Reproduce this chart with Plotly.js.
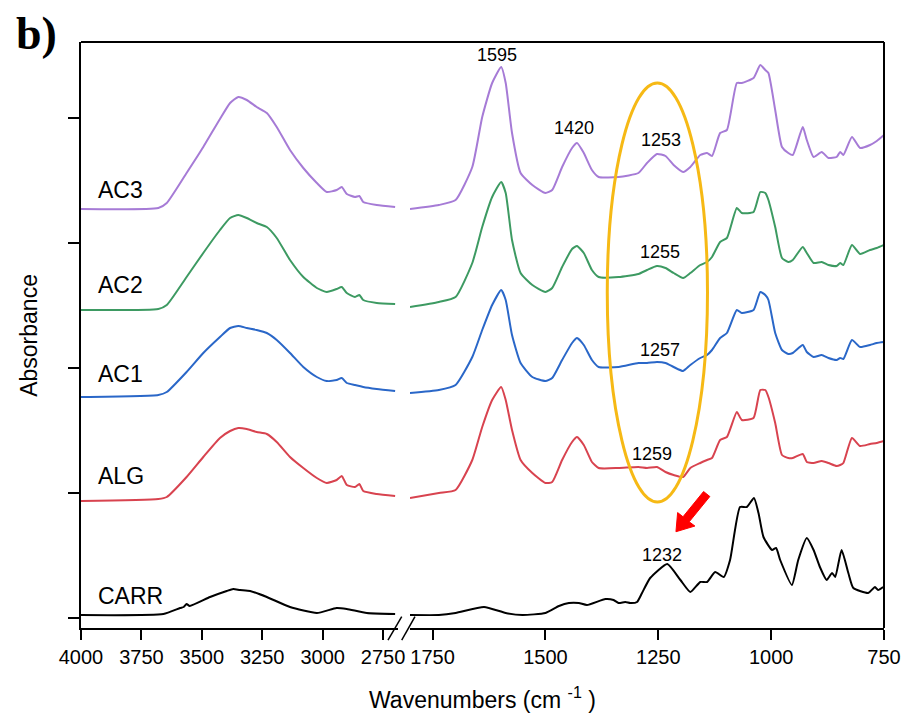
<!DOCTYPE html>
<html>
<head>
<meta charset="utf-8">
<script src="https://cdn.plot.ly/plotly-3.0.1.min.js"></script>
<style>html,body{margin:0;padding:0;background:#fff;}#chart{width:903px;height:713px;}</style>
</head>
<body>
<div id="chart"></div>
<script>
// ---------- DATA ----------
// Left panel (4000 - 2700 cm-1)
const wnLeft = [4000, 3680, 3645, 3563, 3494, 3425, 3383, 3349, 3314, 3273, 3231, 3190, 3135, 3080, 3024, 2983, 2942, 2921, 2900, 2866, 2848, 2832, 2776, 2700];
const ac3Left = [4.09, 4.10, 4.15, 4.45, 4.71, 4.99, 5.15, 5.21, 5.18, 5.11, 5.05, 4.91, 4.68, 4.50, 4.35, 4.26, 4.28, 4.31, 4.24, 4.21, 4.22, 4.16, 4.13, 4.11];
const ac2Left = [3.08, 3.09, 3.13, 3.41, 3.65, 3.88, 4.00, 4.03, 4.00, 3.95, 3.91, 3.80, 3.58, 3.41, 3.30, 3.26, 3.29, 3.31, 3.25, 3.21, 3.23, 3.18, 3.15, 3.14];
const ac1Left = [2.21, 2.23, 2.26, 2.46, 2.65, 2.81, 2.90, 2.92, 2.90, 2.88, 2.85, 2.78, 2.65, 2.51, 2.41, 2.37, 2.38, 2.40, 2.35, 2.33, 2.32, 2.31, 2.29, 2.27];
const algLeft = [1.17, 1.19, 1.21, 1.41, 1.61, 1.80, 1.87, 1.90, 1.89, 1.86, 1.84, 1.76, 1.61, 1.50, 1.40, 1.35, 1.38, 1.42, 1.33, 1.31, 1.34, 1.27, 1.24, 1.22];
const wnCarrLeft = [4000, 3659, 3590, 3575, 3563, 3550, 3466, 3397, 3370, 3342, 3300, 3231, 3135, 3024, 2942, 2900, 2817, 2700];
const carrLeft = [0.03, 0.04, 0.10, 0.11, 0.14, 0.12, 0.21, 0.27, 0.29, 0.28, 0.27, 0.21, 0.11, 0.05, 0.10, 0.09, 0.05, 0.04];

// Right panel (1800 - 750 cm-1)
const wnRight = [1800, 1736, 1699, 1662, 1640, 1618, 1598, 1588, 1574, 1555, 1529, 1500, 1485, 1463, 1441, 1430, 1415, 1397, 1382, 1338, 1294, 1275, 1253, 1234, 1216, 1195, 1179, 1157, 1142, 1131, 1113, 1098, 1076, 1065, 1039, 1024, 1013, 1006, 991, 976, 962, 952, 930, 921, 906, 888, 873, 855, 847, 840, 821, 803, 781, 766, 750];
const ac3Right = [4.09, 4.13, 4.18, 4.51, 5.01, 5.35, 5.51, 5.35, 4.85, 4.45, 4.33, 4.25, 4.28, 4.51, 4.70, 4.75, 4.65, 4.48, 4.41, 4.41, 4.45, 4.55, 4.64, 4.62, 4.53, 4.46, 4.51, 4.63, 4.65, 4.62, 4.85, 4.88, 5.35, 5.35, 5.40, 5.53, 5.48, 5.45, 5.08, 4.71, 4.65, 4.63, 4.91, 4.78, 4.61, 4.66, 4.60, 4.61, 4.66, 4.63, 4.81, 4.70, 4.73, 4.77, 4.83];
const ac2Right = [3.11, 3.16, 3.21, 3.55, 3.91, 4.21, 4.36, 4.25, 3.78, 3.45, 3.33, 3.26, 3.30, 3.51, 3.69, 3.72, 3.65, 3.48, 3.41, 3.41, 3.44, 3.48, 3.52, 3.50, 3.45, 3.40, 3.45, 3.53, 3.56, 3.61, 3.76, 3.80, 4.10, 4.05, 4.06, 4.26, 4.25, 4.18, 3.91, 3.60, 3.56, 3.58, 3.71, 3.65, 3.55, 3.56, 3.53, 3.52, 3.55, 3.53, 3.73, 3.64, 3.68, 3.70, 3.73];
const ac1Right = [2.25, 2.28, 2.33, 2.61, 2.88, 3.13, 3.28, 3.18, 2.83, 2.55, 2.41, 2.37, 2.40, 2.58, 2.75, 2.80, 2.73, 2.58, 2.51, 2.51, 2.55, 2.55, 2.56, 2.55, 2.51, 2.47, 2.53, 2.60, 2.63, 2.68, 2.80, 2.85, 3.08, 3.05, 3.08, 3.26, 3.23, 3.18, 2.85, 2.68, 2.64, 2.65, 2.73, 2.66, 2.61, 2.63, 2.60, 2.58, 2.60, 2.59, 2.78, 2.71, 2.73, 2.75, 2.76];
const algRight = [1.20, 1.25, 1.28, 1.58, 1.91, 2.18, 2.31, 2.18, 1.88, 1.58, 1.45, 1.35, 1.36, 1.58, 1.76, 1.81, 1.73, 1.56, 1.50, 1.50, 1.51, 1.50, 1.51, 1.46, 1.43, 1.41, 1.50, 1.55, 1.58, 1.60, 1.78, 1.81, 2.06, 1.98, 2.00, 2.28, 2.28, 2.21, 1.95, 1.63, 1.60, 1.60, 1.64, 1.56, 1.55, 1.57, 1.55, 1.52, 1.53, 1.55, 1.80, 1.72, 1.74, 1.75, 1.77];
const wnCarrRight = [1800, 1736, 1699, 1636, 1588, 1551, 1500, 1470, 1448, 1426, 1408, 1367, 1349, 1338, 1323, 1312, 1297, 1286, 1268, 1230, 1201, 1179, 1157, 1142, 1124, 1105, 1091, 1069, 1054, 1038, 1028, 1017, 998, 989, 980, 954, 940, 921, 906, 892, 877, 865, 858, 844, 829, 818, 785, 770, 763, 752];
const carrRight = [0.03, 0.03, 0.05, 0.11, 0.05, 0.03, 0.05, 0.12, 0.15, 0.15, 0.13, 0.19, 0.18, 0.15, 0.16, 0.15, 0.16, 0.25, 0.40, 0.54, 0.38, 0.26, 0.36, 0.36, 0.46, 0.41, 0.58, 1.11, 1.11, 1.20, 1.05, 0.81, 0.68, 0.70, 0.58, 0.33, 0.58, 0.80, 0.68, 0.51, 0.38, 0.45, 0.41, 0.68, 0.45, 0.30, 0.25, 0.31, 0.28, 0.31];

const seriesNames = ["AC3", "AC2", "AC1", "ALG", "CARR"];
const seriesLabelY = [4.28, 3.33, 2.44, 1.42, 0.22];
const peakLabels = ["1595", "1420", "1253", "1255", "1257", "1259", "1232"];
const peakLabelX = [1607, 1436, 1243, 1246, 1246, 1263, 1241];
const peakLabelY = [5.63, 4.90, 4.78, 3.66, 2.68, 1.64, 0.63];
const leftTicks = [4000, 3750, 3500, 3250, 3000, 2750];
const rightTicks = [1750, 1500, 1250, 1000, 750];

// ---------- STYLE ----------
const colors = {AC3: "#a67bd6", AC2: "#3d9a62", AC1: "#2a67c8", ALG: "#d8434f", CARR: "#000000"};
const FONT = "Liberation Sans, Arial, Helvetica, sans-serif";

const leftData = {AC3: [wnLeft, ac3Left], AC2: [wnLeft, ac2Left], AC1: [wnLeft, ac1Left], ALG: [wnLeft, algLeft], CARR: [wnCarrLeft, carrLeft]};
const rightData = {AC3: [wnRight, ac3Right], AC2: [wnRight, ac2Right], AC1: [wnRight, ac1Right], ALG: [wnRight, algRight], CARR: [wnCarrRight, carrRight]};

const traces = [];
seriesNames.forEach(n => {
  traces.push({x: leftData[n][0], y: leftData[n][1], xaxis: "x", yaxis: "y", mode: "lines",
    line: {color: colors[n], width: 2, shape: "spline", smoothing: 0.5}, name: n, hoverinfo: "skip"});
  traces.push({x: rightData[n][0], y: rightData[n][1], xaxis: "x2", yaxis: "y", mode: "lines",
    line: {color: colors[n], width: 2, shape: "spline", smoothing: 0.5}, name: n, hoverinfo: "skip"});
});

const axisCommon = {ticks: "outside", ticklen: 10, tickwidth: 2, tickcolor: "#000", showline: true, linewidth: 2,
  linecolor: "#000", showgrid: false, zeroline: false, tickfont: {family: FONT, size: 20, color: "#000"}, anchor: "y", fixedrange: true};

const annotations = [];
seriesNames.forEach((n, i) => annotations.push({x: 3930, y: seriesLabelY[i], xref: "x", yref: "y", text: n, showarrow: false,
  xanchor: "left", yanchor: "middle", xshift: -2, font: {family: FONT, size: 23, color: "#000"}}));
peakLabels.forEach((t, i) => annotations.push({x: peakLabelX[i], y: peakLabelY[i], xref: "x2", yref: "y", text: t, showarrow: false,
  xanchor: "center", yanchor: "middle", font: {family: FONT, size: 18, color: "#000"}}));
annotations.push({x: 0.5, y: -0.12, xref: "paper", yref: "paper", text: "Wavenumbers (cm <sup>-1</sup> )", showarrow: false,
  xanchor: "center", yanchor: "middle", font: {family: FONT, size: 23, color: "#000"}});
annotations.push({x: -0.065, y: 0.5, xref: "paper", yref: "paper", text: "Absorbance", textangle: -90, showarrow: false,
  xanchor: "center", yanchor: "middle", font: {family: FONT, size: 23, color: "#000"}});
annotations.push({x: -0.056, y: 1.014, xref: "paper", yref: "paper", text: "<b>b)</b>", showarrow: false,
  xanchor: "center", yanchor: "middle", font: {family: "Liberation Serif, Times New Roman, serif", size: 46, color: "#000"}});

const shapes = [
  {type: "circle", xref: "x2", yref: "y", x0: 1363, x1: 1141, y0: 1.16, y1: 5.35, line: {color: "#f6b915", width: 3}},
  {type: "line", xref: "paper", yref: "paper", x0: 0, x1: 1, y0: 1, y1: 1, line: {color: "#000", width: 2}},
  {type: "line", xref: "paper", yref: "paper", x0: 1, x1: 1, y0: 0, y1: 1, line: {color: "#000", width: 2}},
  {type: "line", xref: "paper", yref: "paper", x0: 0.3823, x1: 0.3994, y0: -0.0205, y1: 0.0193, line: {color: "#000", width: 1.5}},
  {type: "line", xref: "paper", yref: "paper", x0: 0.3994, x1: 0.4159, y0: -0.0205, y1: 0.0193, line: {color: "#000", width: 1.5}},
  // red arrow pointing to the 1232 band
  {type: "path", xref: "paper", yref: "paper",
   path: "M 0.7831 0.2244 L 0.7753 0.2329 L 0.7497 0.1898 L 0.7430 0.1970 L 0.7409 0.1643 L 0.7645 0.1740 L 0.7574 0.1812 Z",
   fillcolor: "#ff0000", line: {color: "#ff0000", width: 1}}
];

const layout = {
  width: 903, height: 713,
  margin: {l: 81, r: 19, t: 42, b: 85},
  paper_bgcolor: "#fff", plot_bgcolor: "#fff",
  showlegend: false,
  font: {family: FONT, color: "#000"},
  xaxis: Object.assign({}, axisCommon, {domain: [0, 0.3948], range: [4000, 2688], tickvals: leftTicks, ticktext: leftTicks.map(String)}),
  xaxis2: Object.assign({}, axisCommon, {domain: [0.4097, 1], range: [1800, 750], tickvals: rightTicks, ticktext: rightTicks.map(String)}),
  yaxis: {range: [-0.10, 5.76], tick0: 0, dtick: 1.25, tickmode: "linear", ticks: "outside", ticklen: 11, tickwidth: 2, tickcolor: "#000",
    showticklabels: false, showline: true, linewidth: 2, linecolor: "#000", showgrid: false, zeroline: false, anchor: "x", fixedrange: true},
  annotations: annotations,
  shapes: shapes
};

Plotly.newPlot("chart", traces, layout, {staticPlot: true, displayModeBar: false});
</script>
</body>
</html>
